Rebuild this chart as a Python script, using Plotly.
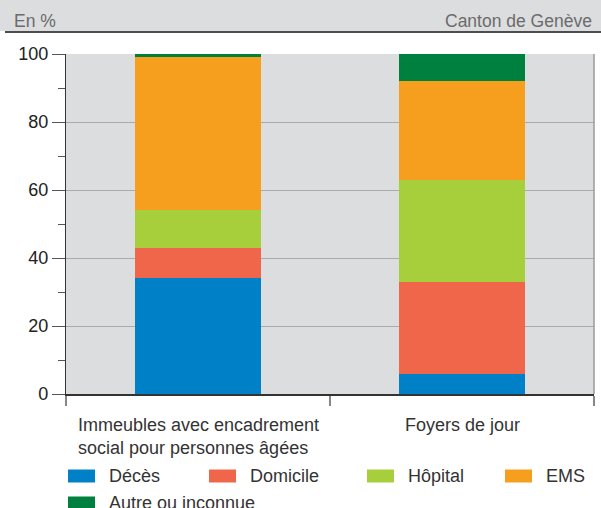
import plotly.graph_objects as go

categories = ["Immeubles avec encadrement<br>social pour personnes âgées", "Foyers de jour"]
series_names = ["Décès", "Domicile", "Hôpital", "EMS", "Autre ou inconnue"]
deces = [34, 6]
domicile = [9, 27]
hopital = [11, 30]
ems = [45, 29]
autre = [1, 8]
series_values = [deces, domicile, hopital, ems, autre]
colors = ["#0080C6", "#F0664A", "#A7CF3B", "#F69F1E", "#00803F"]
y_ticks = [0, 20, 40, 60, 80, 100]

W, H = 601, 508
ML, MR, MT, MB = 66, 7, 54, 114
PW, PH = W - ML - MR, H - MT - MB


def px(x):
    return (x - ML) / PW


def py(y):
    return (H - MB - y) / PH


fig = go.Figure()
for name, vals, col in zip(series_names, series_values, colors):
    fig.add_trace(go.Bar(x=categories, y=vals, name=name, marker_color=col,
                         marker_line_width=0, showlegend=False, width=0.48))

shapes = []
annotations = []
# header band
shapes.append(dict(type="rect", xref="paper", yref="paper", x0=px(0), x1=px(W), y0=py(0), y1=py(31),
                   fillcolor="#DCDDDF", line_width=0, layer="below"))
shapes.append(dict(type="line", xref="paper", yref="paper", x0=px(5), x1=px(W), y0=py(32), y1=py(32),
                   line=dict(color="#4D4D4D", width=2), layer="below"))
annotations.append(dict(text="En %", xref="paper", yref="paper", x=px(12), y=py(21), xanchor="left",
                        yanchor="middle", showarrow=False, font=dict(size=17.5, color="#6B6B6B")))
annotations.append(dict(text="Canton de Genève", xref="paper", yref="paper", x=px(594), y=py(21),
                        xanchor="right", yanchor="middle", showarrow=False,
                        font=dict(size=17.5, color="#6B6B6B")))
# right border of plot
shapes.append(dict(type="line", xref="paper", yref="paper", x0=1, x1=1, y0=0, y1=1,
                   line=dict(color="#9A9A9A", width=1.5)))

# category labels
for c in categories:
    annotations.append(dict(text=c, x=c, xref="x", yref="paper", y=py(413), xanchor="center",
                            yanchor="top", align="left", showarrow=False,
                            font=dict(size=18, color="#333333")))

# legend
leg_pos = [(68, 476), (209, 476), (367, 476), (505, 476), (68, 503)]
for (lx, ly), name, col in zip(leg_pos, series_names, colors):
    shapes.append(dict(type="rect", xref="paper", yref="paper", x0=px(lx), x1=px(lx + 27),
                       y0=py(ly - 6.5), y1=py(ly + 6.5), fillcolor=col, line_width=0))
    annotations.append(dict(text=name, xref="paper", yref="paper", x=px(lx + 39), y=py(ly),
                            xanchor="left", yanchor="middle", showarrow=False,
                            font=dict(size=18, color="#333333")))

fig.update_layout(
    width=W, height=H,
    margin=dict(l=ML, r=MR, t=MT, b=MB, pad=0),
    barmode="stack",
    plot_bgcolor="#DCDDDF",
    paper_bgcolor="white",
    font=dict(family="Liberation Sans, Arial, sans-serif", size=18, color="#333333"),
    shapes=shapes,
    annotations=annotations,
    xaxis=dict(type="category", tickson="boundaries", ticks="outside", ticklen=10,
               tickcolor="#888888", tickwidth=1.5, showticklabels=False, showgrid=False,
               showline=True, linecolor="#333333", linewidth=1.5, range=[-0.5, 1.5]),
    yaxis=dict(range=[0, 100], tickvals=y_ticks, ticks="outside", ticklen=13, tickcolor="#555555",
               tickwidth=1.2, showgrid=True, gridcolor="#A9AAAC", gridwidth=1.2,
               showline=True, linecolor="#333333", linewidth=1.2, zeroline=False,
               tickfont=dict(size=18, color="#222222"),
               minor=dict(dtick=10, tick0=0, ticks="outside", ticklen=7, tickcolor="#555555",
                          showgrid=False)),
)

fig.write_html("out.html", config={"displayModeBar": False},
               post_script="document.body.style.margin='0';document.body.style.padding='0';")
